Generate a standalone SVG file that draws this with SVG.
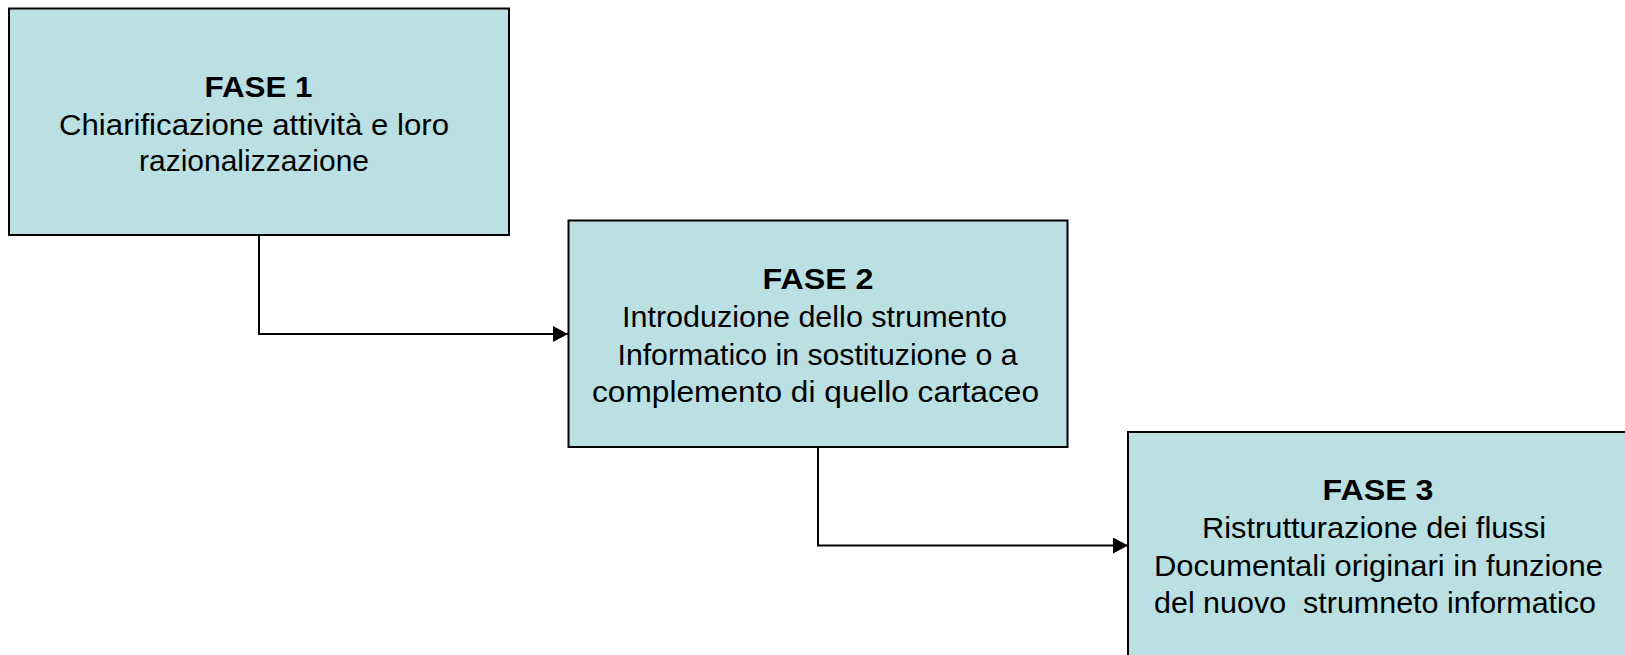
<svg xmlns="http://www.w3.org/2000/svg" width="1625" height="655" viewBox="0 0 1625 655">
<style>
.box{fill:#BAE0E3;stroke:#000;stroke-width:2}
.t{font-family:"Liberation Sans",Arial,sans-serif;font-size:29.4px;fill:#000;text-anchor:middle}
.b{font-weight:bold}
.c{fill:none;stroke:#000;stroke-width:2}
</style>
<defs>
<marker id="ah" viewBox="0 0 15 16" refX="15" refY="8" markerWidth="15" markerHeight="16" markerUnits="userSpaceOnUse" orient="auto">
<polygon points="0,0 15,8 0,16" fill="#000"/>
</marker>
</defs>
<rect width="1625" height="655" fill="#fff"/>
<g id="connectors">
<polyline class="c" points="259,235 259,334 568,334" marker-end="url(#ah)"/>
<polyline class="c" points="818,447 818,545.5 1128,545.5" marker-end="url(#ah)"/>
</g>
<g id="fase1">
<rect class="box" x="9" y="8.5" width="500" height="226.5"/>
<text class="t b" x="258.5" y="96.5" textLength="108" lengthAdjust="spacingAndGlyphs">FASE 1</text>
<text class="t" x="254" y="134.5" textLength="390" lengthAdjust="spacingAndGlyphs">Chiarificazione attività e loro</text>
<text class="t" x="254" y="171" textLength="230" lengthAdjust="spacingAndGlyphs">razionalizzazione</text>
</g>
<g id="fase2">
<rect class="box" x="568.5" y="220.5" width="499" height="226.5"/>
<text class="t b" x="818" y="288.5" textLength="111" lengthAdjust="spacingAndGlyphs">FASE 2</text>
<text class="t" x="814.5" y="327" textLength="385" lengthAdjust="spacingAndGlyphs">Introduzione dello strumento</text>
<text class="t" x="817.5" y="365" textLength="400" lengthAdjust="spacingAndGlyphs">Informatico in sostituzione o a</text>
<text class="t" x="815.5" y="402" textLength="447" lengthAdjust="spacingAndGlyphs">complemento di quello cartaceo</text>
</g>
<g id="fase3">
<rect class="box" x="1128" y="432" width="502" height="240"/>
<text class="t b" x="1378" y="500" textLength="111" lengthAdjust="spacingAndGlyphs">FASE 3</text>
<text class="t" x="1374" y="538" textLength="344" lengthAdjust="spacingAndGlyphs">Ristrutturazione dei flussi</text>
<text class="t" x="1378.5" y="575.5" textLength="449" lengthAdjust="spacingAndGlyphs">Documentali originari in funzione</text>
<text class="t" x="1375" y="613" textLength="442" lengthAdjust="spacingAndGlyphs" xml:space="preserve">del nuovo  strumneto informatico</text>
</g>
</svg>
